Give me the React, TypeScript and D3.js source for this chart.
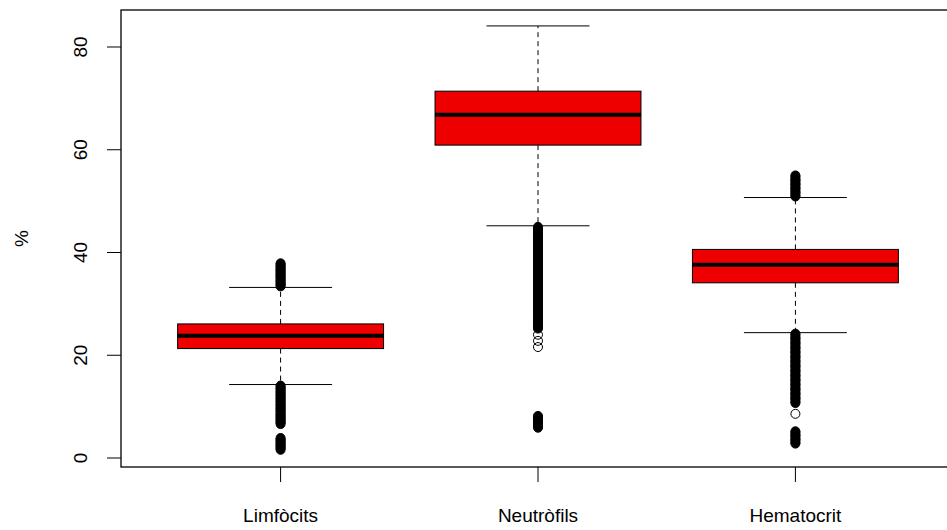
import React from "react";
import * as d3 from "d3";

// categories and five-number summaries
const categories = ["Limfòcits", "Neutròfils", "Hematocrit"];
const lowerWhisker = [14.3, 45.2, 24.4];
const q1 = [21.3, 60.9, 34.1];
const median = [23.8, 66.8, 37.6];
const q3 = [26.1, 71.4, 40.6];
const upperWhisker = [33.2, 84.1, 50.7];

// outliers per category
const outliersLimfocits = [
  33.4, 33.9, 34.5, 35.1, 35.6, 36.2, 36.7, 37.3, 37.9,
  14.1, 13.5, 12.8, 12.2, 11.6, 11.0, 10.3, 9.7, 9.1, 8.4, 7.8, 7.2, 6.6,
  3.9, 3.3, 2.7, 2.2, 1.6,
];
const outliersNeutrofils = [
  45.0, 44.1, 43.2, 42.3, 41.4, 40.5, 39.6, 38.7, 37.8, 36.9, 36.0, 35.1,
  34.2, 33.3, 32.4, 31.5, 30.6, 29.7, 28.8, 27.9, 27.0, 26.1, 25.2,
  24.0, 22.8, 21.6,
  8.2, 7.4, 6.6, 5.9,
];
const outliersHematocrit = [
  50.9, 51.7, 52.5, 53.3, 54.1, 55.0,
  24.2, 23.3, 22.4, 21.5, 20.6, 19.7, 18.8, 17.9, 17.0, 16.1, 15.2, 14.3,
  13.4, 12.5, 11.6, 10.7,
  8.6,
  5.2, 4.4, 3.6, 2.8,
];
const outliers = [outliersLimfocits, outliersNeutrofils, outliersHematocrit];

const yTicks = [0, 20, 40, 60, 80];

const W = 947;
const H = 530;
const margin = { left: 121, top: 10, right: 955, bottom: 467 };
const font = "'Liberation Sans', Arial, sans-serif";
const boxFill = "#ee0000";

export default function App() {
  const x = d3.scaleLinear().domain([0.38, 3.62]).range([margin.left, margin.right]);
  const y = d3.scaleLinear().domain([-1.75, 87.2]).range([margin.bottom, margin.top]);

  const boxHalf = (x(1.4) - x(1)) ;
  const stapleHalf = (x(1.2) - x(1));
  const r = 4.5;
  const denseGap = 1.0;

  return (
    <svg
      width={W}
      height={H}
      style={{ position: "absolute", left: 0, top: 0, background: "#fff" }}
      fontFamily={font}
    >
      <rect x={0} y={0} width={W} height={H} fill="#fff" />

      {categories.map((c, i) => {
        const cx = x(i + 1);
        const pts = outliers[i].slice().sort((a, b) => a - b);
        const dense = pts.map(
          (v, k) =>
            (k > 0 && v - pts[k - 1] <= denseGap + 1e-9) ||
            (k < pts.length - 1 && pts[k + 1] - v <= denseGap + 1e-9)
        );
        return (
          <g key={c}>
            {/* whiskers */}
            <line x1={cx} x2={cx} y1={y(q3[i])} y2={y(upperWhisker[i])} stroke="#000" strokeDasharray="5,4" />
            <line x1={cx} x2={cx} y1={y(q1[i])} y2={y(lowerWhisker[i])} stroke="#000" strokeDasharray="5,4" />
            <line x1={cx - stapleHalf} x2={cx + stapleHalf} y1={y(upperWhisker[i])} y2={y(upperWhisker[i])} stroke="#000" />
            <line x1={cx - stapleHalf} x2={cx + stapleHalf} y1={y(lowerWhisker[i])} y2={y(lowerWhisker[i])} stroke="#000" />
            {/* box */}
            <rect
              x={cx - boxHalf}
              y={y(q3[i])}
              width={boxHalf * 2}
              height={y(q1[i]) - y(q3[i])}
              fill={boxFill}
              stroke="#000"
              strokeWidth={1}
            />
            <line x1={cx - boxHalf} x2={cx + boxHalf} y1={y(median[i])} y2={y(median[i])} stroke="#000" strokeWidth={4} />
            {/* outliers */}
            {pts.map((v, k) =>
              k > 0 && dense[k] && dense[k - 1] && v - pts[k - 1] <= denseGap + 1e-9 ? (
                <line key={"s" + k} x1={cx} x2={cx} y1={y(pts[k - 1])} y2={y(v)} stroke="#000" strokeWidth={2 * r + 1} />
              ) : null
            )}
            {pts.map((v, k) => (
              <circle key={"p" + k} cx={cx} cy={y(v)} r={r} fill={dense[k] ? "#000" : "none"} stroke="#000" strokeWidth={1} />
            ))}
          </g>
        );
      })}

      {/* plot frame */}
      <rect
        x={margin.left}
        y={margin.top}
        width={margin.right - margin.left}
        height={margin.bottom - margin.top}
        fill="none"
        stroke="#000"
        strokeWidth={1.3}
      />

      {/* y axis */}
      {yTicks.map((t) => (
        <g key={t}>
          <line x1={margin.left - 14} x2={margin.left} y1={y(t)} y2={y(t)} stroke="#000" />
          <text
            transform={`translate(87,${y(t)}) rotate(-90)`}
            textAnchor="middle"
            fontSize={19}
            fill="#000"
          >
            {t}
          </text>
        </g>
      ))}
      <text transform={`translate(28,${(margin.top + margin.bottom) / 2}) rotate(-90)`} textAnchor="middle" fontSize={19}>
        %
      </text>

      {/* x axis */}
      {categories.map((c, i) => (
        <g key={c}>
          <line x1={x(i + 1)} x2={x(i + 1)} y1={margin.bottom} y2={margin.bottom + 15} stroke="#000" />
          <text x={x(i + 1)} y={522} textAnchor="middle" fontSize={19} fill="#000">
            {c}
          </text>
        </g>
      ))}
    </svg>
  );
}
